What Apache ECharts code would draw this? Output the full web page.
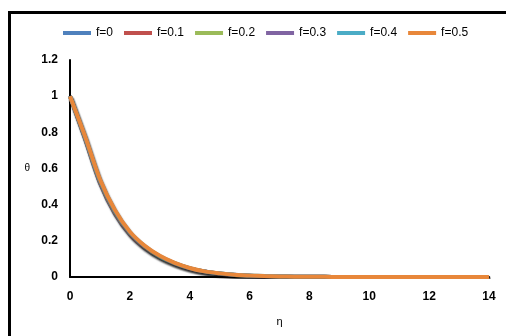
<!DOCTYPE html>
<html>
<head>
<meta charset="utf-8">
<script src="https://cdn.jsdelivr.net/npm/echarts@6/dist/echarts.min.js"></script>
<style>
  html, body { margin: 0; padding: 0; background: #fff; }
  #frame { position: absolute; left: 8px; top: 11px; width: 600px; height: 400px;
           border-top: 3px solid #000; border-left: 3px solid #000; }
  #chart { position: absolute; left: 0; top: 0; width: 506px; height: 336px; }
</style>
</head>
<body>
<div id="frame"></div>
<div id="chart"></div>
<script>
const eta = [0, 0.5, 1, 1.5, 2, 2.5, 3, 3.5, 4, 4.5, 5, 5.5, 6, 6.5, 7, 7.5, 8, 8.5, 9, 9.5, 10, 10.5, 11, 11.5, 12, 12.5, 13, 13.5, 14];

const f0  = [1, 0.765, 0.52, 0.35, 0.235, 0.16, 0.108, 0.072, 0.046, 0.029, 0.018, 0.011, 0.007, 0.004, 0.003, 0.002, 0.001, 0.001, 0, 0, 0, 0, 0, 0, 0, 0, 0, 0, 0];
const f01 = [1, 0.768, 0.524, 0.354, 0.238, 0.162, 0.11, 0.073, 0.047, 0.03, 0.018, 0.011, 0.007, 0.004, 0.003, 0.002, 0.001, 0.001, 0, 0, 0, 0, 0, 0, 0, 0, 0, 0, 0];
const f02 = [1, 0.771, 0.528, 0.358, 0.241, 0.165, 0.111, 0.074, 0.048, 0.03, 0.019, 0.011, 0.007, 0.005, 0.003, 0.002, 0.001, 0.001, 0, 0, 0, 0, 0, 0, 0, 0, 0, 0, 0];
const f03 = [1, 0.774, 0.532, 0.362, 0.244, 0.167, 0.113, 0.075, 0.048, 0.03, 0.019, 0.012, 0.007, 0.005, 0.003, 0.002, 0.001, 0.001, 0, 0, 0, 0, 0, 0, 0, 0, 0, 0, 0];
const f04 = [1, 0.777, 0.536, 0.366, 0.247, 0.17, 0.115, 0.077, 0.049, 0.031, 0.02, 0.012, 0.008, 0.005, 0.003, 0.002, 0.001, 0.001, 0, 0, 0, 0, 0, 0, 0, 0, 0, 0, 0];
const f05 = [1, 0.78, 0.54, 0.37, 0.25, 0.172, 0.117, 0.078, 0.05, 0.031, 0.02, 0.012, 0.008, 0.005, 0.003, 0.002, 0.001, 0.001, 0, 0, 0, 0, 0, 0, 0, 0, 0, 0, 0];

const names = ['f=0', 'f=0.1', 'f=0.2', 'f=0.3', 'f=0.4', 'f=0.5'];
const values = [f0, f01, f02, f03, f04, f05];
const colors = ['#4F81BD', '#C0504D', '#9BBB59', '#8064A2', '#4BACC6', '#E8873A'];

const xTicks = [0, 2, 4, 6, 8, 10, 12, 14];
const yTicks = [0, 0.2, 0.4, 0.6, 0.8, 1, 1.2];

const chart = echarts.init(document.getElementById('chart'));

const series = names.map((name, i) => ({
  name: name,
  type: 'line',
  smooth: 0.3,
  symbol: 'none',
  animation: false,
  data: eta.map((x, j) => [x, values[i][j]]),
  lineStyle: {
    color: colors[i],
    width: 4,
    shadowColor: 'rgba(0,0,0,0.25)',
    shadowBlur: 2,
    shadowOffsetX: 1,
    shadowOffsetY: 2
  },
  itemStyle: { color: colors[i] }
}));

chart.setOption({
  textStyle: { fontFamily: 'Liberation Sans, Arial, sans-serif' },
  legend: {
    left: 58,
    top: 22,
    itemWidth: 28,
    itemHeight: 4,
    itemGap: 11,
    icon: 'rect',
    textStyle: { fontSize: 12, color: '#000' },
    data: names
  },
  grid: { left: 70, right: 17, top: 60, bottom: 59 },
  xAxis: {
    type: 'value',
    min: 0,
    max: 14,
    interval: 2,
    name: 'η',
    nameLocation: 'middle',
    nameGap: 39,
    nameTextStyle: { fontSize: 11, color: '#000' },
    axisLine: { lineStyle: { color: '#000', width: 2 } },
    axisTick: { show: false },
    splitLine: { show: false },
    axisLabel: {
      margin: 14,
      fontSize: 12,
      fontWeight: 'bold',
      color: '#000',
      formatter: v => xTicks.includes(v) ? String(v) : ''
    }
  },
  yAxis: {
    type: 'value',
    min: 0,
    max: 1.2,
    interval: 0.2,
    name: 'θ',
    nameLocation: 'middle',
    nameRotate: 0,
    nameGap: 40,
    nameTextStyle: { fontSize: 10, color: '#000' },
    axisLine: { show: true, lineStyle: { color: '#000', width: 2 } },
    axisTick: { show: false },
    splitLine: { show: false },
    axisLabel: {
      margin: 12,
      fontSize: 12,
      fontWeight: 'bold',
      color: '#000',
      formatter: v => {
        const t = yTicks.find(y => Math.abs(y - v) < 1e-6);
        return t === undefined ? '' : String(t);
      }
    }
  },
  series: series
});
</script>
</body>
</html>
